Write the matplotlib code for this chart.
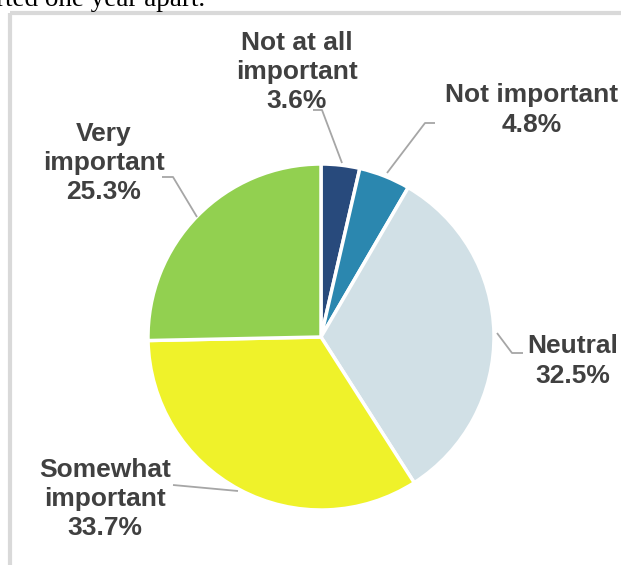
import matplotlib.pyplot as plt

W, H = 621, 565

labels = ["Not at all\nimportant", "Not important", "Neutral",
          "Somewhat\nimportant", "Very\nimportant"]
values = [3.6, 4.8, 32.5, 33.7, 25.3]
colors = ["#284a7c", "#2b87af", "#d1e0e6", "#eff22a", "#92d050"]

# label block centres and leader lines, in pixels from the top-left
label_pos = [(297, 72), (532, 110), (573, 361), (105, 499), (104, 163)]
leaders = [
    [(313, 110), (322, 110), (342, 163)],
    [(435, 123), (425, 123), (387, 173)],
    [(497, 333), (512, 353), (523, 353)],
    [(173, 485), (238, 491)],
    [(162, 177), (173, 177), (197, 217)],
]


def Y(y):
    return H - y


fig = plt.figure(figsize=(W / 100, H / 100), dpi=100)
ax = fig.add_axes([0, 0, 1, 1])

ax.pie(values, colors=colors, startangle=90, counterclock=False,
       center=(321, Y(337)), radius=173,
       wedgeprops=dict(edgecolor="white", linewidth=2.5))

for pts in leaders:
    ax.plot([p[0] for p in pts], [Y(p[1]) for p in pts],
            color="#a6a6a6", lw=1.3, solid_capstyle="butt")

for lab, val, (x, y) in zip(labels, values, label_pos):
    ax.text(x, Y(y), f"{lab}\n{val:.1f}%", ha="center", va="center",
            multialignment="center", fontsize=19, fontweight="bold",
            family="Liberation Sans", color="#404040", linespacing=1.27)

# frame of the embedded chart
ax.plot([10, 10], [Y(13), Y(H + 5)], color="#d9d9d9", lw=3,
        solid_capstyle="butt")
ax.plot([10, W + 5], [Y(13), Y(13)], color="#d9d9d9", lw=3,
        solid_capstyle="butt")

# cut-off caption line from the page above
ax.text(205, Y(6), "rted one year apart.", ha="right", va="baseline",
        fontsize=19.5, family="Liberation Serif", color="black")

ax.set_xlim(0, W)
ax.set_ylim(0, H)
ax.set_aspect("equal")
ax.axis("off")

fig.savefig("out.png", dpi=100)
